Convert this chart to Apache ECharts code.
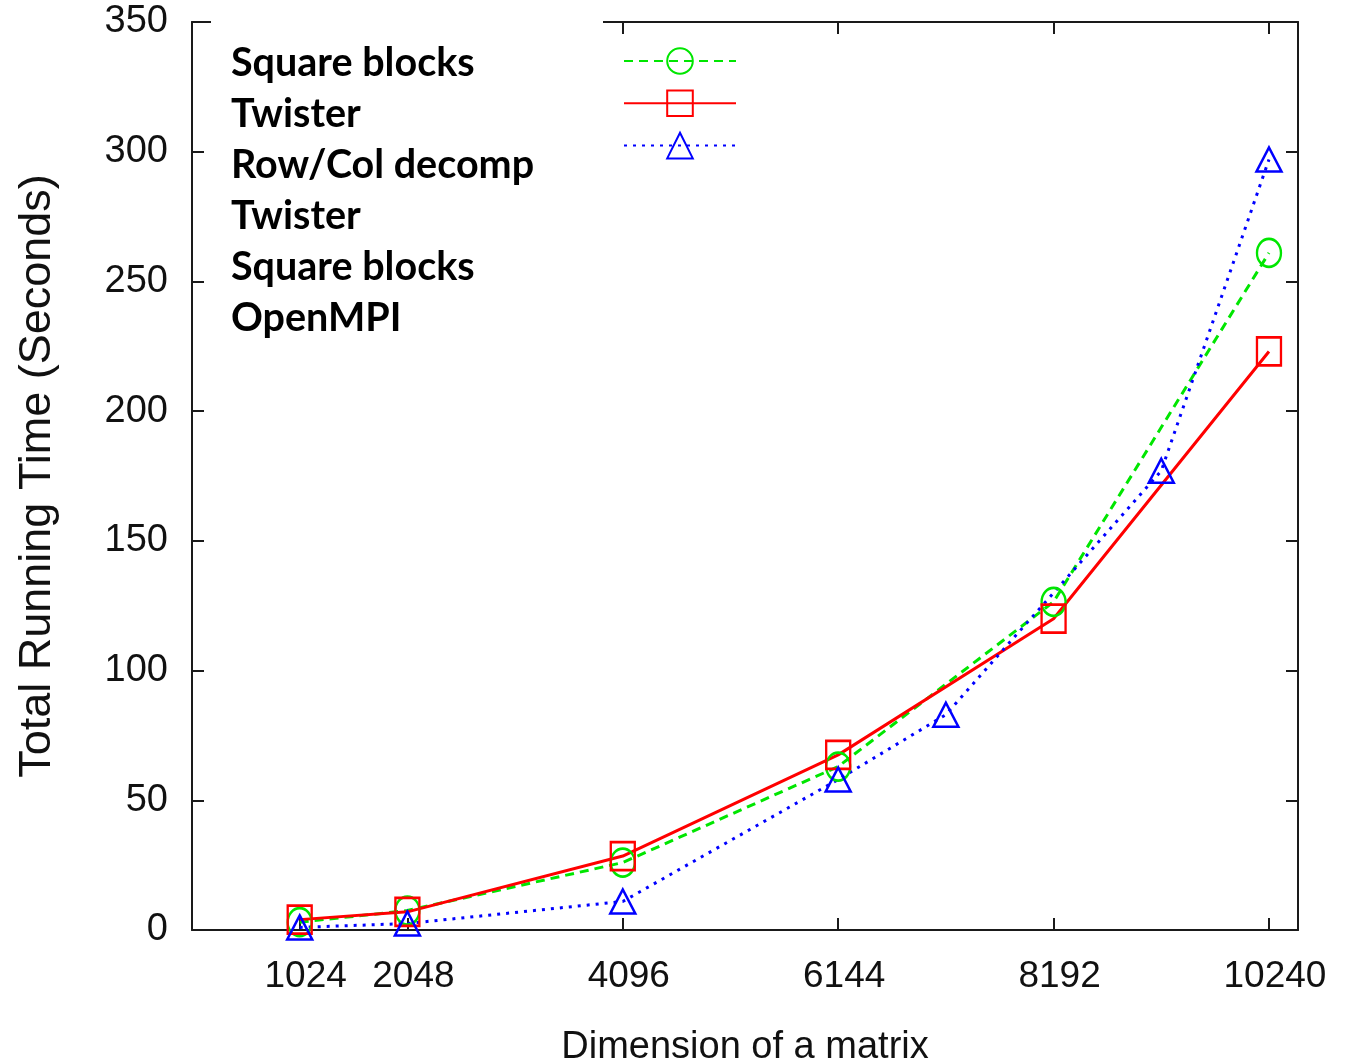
<!DOCTYPE html>
<html>
<head>
<meta charset="utf-8">
<script src="https://cdn.jsdelivr.net/npm/echarts@6/dist/echarts.min.js"></script>
<style>
  html, body { margin: 0; padding: 0; background: #fff; }
  #chart { width: 1351px; height: 1064px; }
</style>
</head>
<body>
<div id="chart"></div>
<script>
// Matrix sizes measured and the running times (seconds) per implementation
const matrixDims = [1024, 2048, 4096, 6144, 8192, 10240];
const rowColDims = [1024, 2048, 4096, 6144, 7168, 9216, 10240];
const squareBlocks = [3, 7.5, 26, 63, 126.5, 261];
const twister = [4, 7, 28.5, 67.5, 120, 223];
const rowColDecomp = [1, 2.5, 11, 58, 83, 177, 297];
const xTicks = [1024, 2048, 4096, 6144, 8192, 10240];
const seriesNames = ['Square blocks', 'Twister', 'Row/Col decomp'];
const noteLines = ['Square blocks', 'Twister', 'Row/Col decomp', 'Twister', 'Square blocks', 'OpenMPI'];

const zip = (xs, ys) => xs.map((x, i) => [x, ys[i]]);

const AXIS_COLOR = '#1a1a1a';
const FONT = "'Liberation Sans', Arial, sans-serif";

const frameLine = { show: true, onZero: false, lineStyle: { color: AXIS_COLOR, width: 2 } };
const innerTick = (vals) => ({
  show: true, inside: true, length: 12,
  lineStyle: { color: AXIS_COLOR, width: 2 },
  ...(vals ? { customValues: vals } : {})
});

const chart = echarts.init(document.getElementById('chart'), null, { renderer: 'canvas' });

const lineSeries = (name, xs, ys, color, dash, symbol, size) => ({
  name, type: 'line', xAxisIndex: 0, yAxisIndex: 0,
  data: zip(xs, ys),
  symbol, symbolSize: size,
  showAllSymbol: true,
  lineStyle: { color, width: 3, type: dash },
  itemStyle: { color: 'rgba(0,0,0,0)', borderColor: color, borderWidth: 2.5 },
  emphasis: { disabled: true },
  animation: false
});

chart.setOption({
  backgroundColor: '#fff',
  animation: false,
  grid: { left: 192, right: 53, top: 22, bottom: 134, outerBoundsMode: 'none' },
  title: {
    text: noteLines.join('\n'),
    left: 231, top: 38, padding: 0, z: 10,
    textStyle: { fontFamily: "Lato, 'Open Sans', sans-serif", fontWeight: 'bold', fontSize: 39.5, lineHeight: 51, color: '#000' }
  },
  legend: {
    orient: 'vertical', left: 623, top: 45, padding: 0,
    itemWidth: 112, itemHeight: 32, itemGap: 12.5,
    selectedMode: false,
    formatter: () => '',
    textStyle: { fontSize: 1 },
    data: seriesNames
  },
  graphic: [{
    type: 'rect', z: 5,
    shape: { x: 211, y: 10, width: 392, height: 340 },
    style: { fill: '#fff' }
  }],
  xAxis: [{
    type: 'value', position: 'bottom', min: 0, max: 10516, interval: 1024,
    name: 'Dimension of a matrix', nameLocation: 'middle', nameGap: 99, nameMoveOverlap: false,
    nameTextStyle: { fontFamily: FONT, fontSize: 38, color: '#111' },
    axisLine: frameLine, axisTick: innerTick(xTicks),
    axisLabel: {
      customValues: xTicks, margin: 28, padding: [0, 0, 0, 12],
      formatter: (v) => String(v),
      fontFamily: FONT, fontSize: 37, color: '#111'
    },
    splitLine: { show: false }
  }, {
    type: 'value', position: 'top', min: 0, max: 10516, interval: 1024,
    axisLine: frameLine, axisTick: innerTick(xTicks),
    axisLabel: { show: false }, splitLine: { show: false }
  }],
  yAxis: [{
    type: 'value', position: 'left', min: 0, max: 350, interval: 50,
    name: 'Total Running Time (Seconds)', nameLocation: 'middle', nameGap: 132, nameMoveOverlap: false,
    nameTextStyle: { fontFamily: FONT, fontSize: 45, color: '#111' },
    axisLine: frameLine, axisTick: innerTick(),
    axisLabel: { margin: 24, fontFamily: FONT, fontSize: 38, color: '#111' },
    splitLine: { show: false }
  }, {
    type: 'value', position: 'right', min: 0, max: 350, interval: 50,
    axisLine: frameLine, axisTick: innerTick(),
    axisLabel: { show: false }, splitLine: { show: false }
  }],
  series: [
    lineSeries(seriesNames[0], matrixDims, squareBlocks, '#00e600', [9, 6], 'circle', [24, 28]),
    lineSeries(seriesNames[1], matrixDims, twister, '#ff0000', 'solid', 'rect', [24, 28]),
    lineSeries(seriesNames[2], rowColDims, rowColDecomp, '#0000ff', [3, 6], 'triangle', [25, 24])
  ]
});
</script>
</body>
</html>
